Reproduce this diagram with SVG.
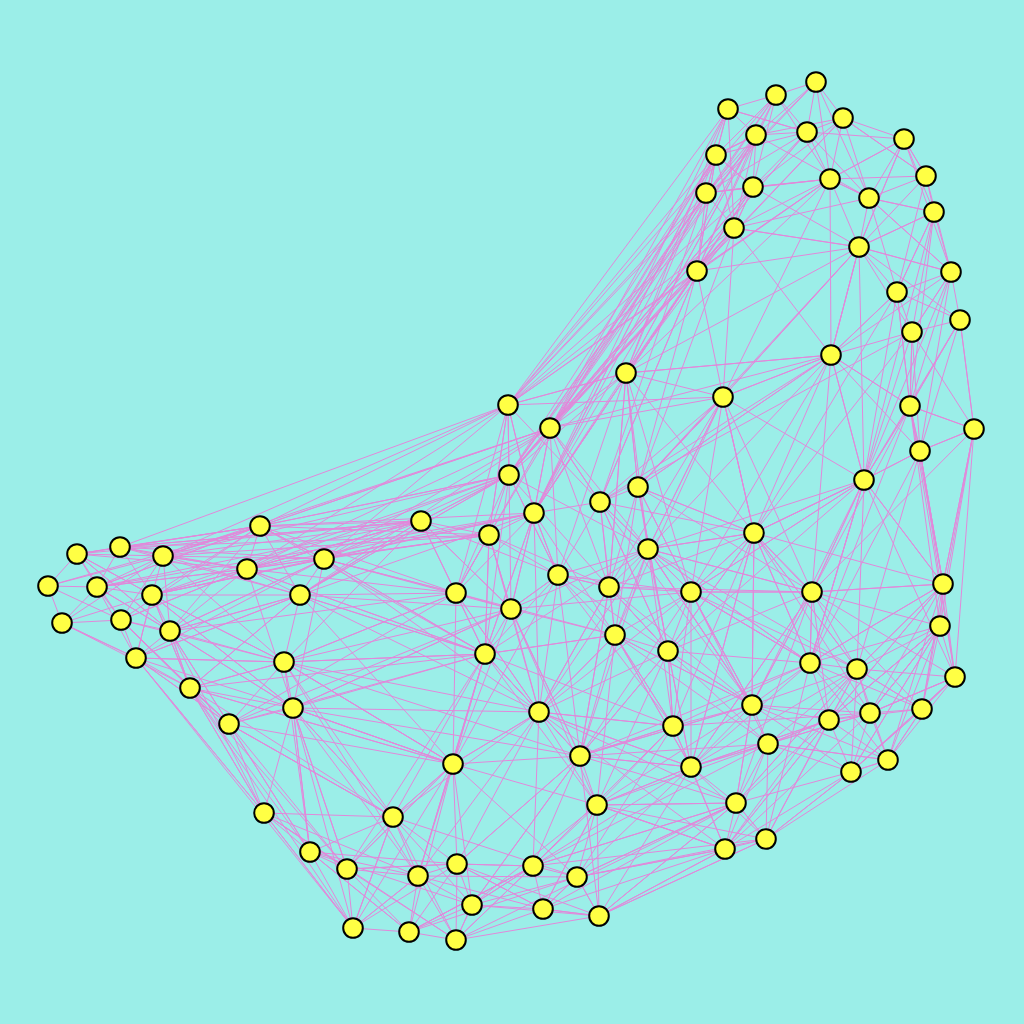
<svg xmlns="http://www.w3.org/2000/svg" width="1024" height="1024" viewBox="0 0 1024 1024">
<style>
.e path{fill:none;stroke:#e288da;stroke-width:1;stroke-linejoin:round}
.n circle{fill:#ffff44;stroke:#000;stroke-width:2}
</style>
<rect width="1024" height="1024" fill="#9beee8"/>
<g id="edges" class="e">
<path d="M728,109 L776,95 L816,82 L843,118 L904,139 L926,176 L934,212 L951,272 L960,320 L912,332 L897,292 L859,247 L869,198 L830,179 L807,132 L756,135 L716,155 L706,193 L734,228 L697,271"/>
<path d="M816,82 L807,132 L753,187 L706,193 L728,109 L756,135 L776,95 L830,179 L859,247 L831,355 L897,292 L934,212 L869,198 L904,139 L830,179 L753,187 L734,228 L859,247 L912,332 L910,406"/>
<path d="M816,82 L756,135 L753,187 L716,155 L728,109 L807,132 L843,118 L869,198 L926,176 L897,292 L960,320 L974,429 L910,406 L831,355 L723,397 L697,271 L753,187 L859,247 L951,272 L912,332 L831,355"/>
<path d="M816,82 L830,179 L869,198 L934,212 L859,247 L960,320 L910,406 L920,451 L974,429 L912,332 L920,451 L864,480 L831,355 L859,247 L723,397 L626,373 L697,271 L716,155 L776,95 L807,132 L904,139"/>
<path d="M816,82 L706,193 L753,187 L843,118 L830,179 L706,193 L697,271 L734,228 L831,355 L951,272 L926,176 L904,139 L934,212 L897,292 L910,406 L864,480"/>
<path d="M816,82 L869,198 L951,272 L904,139 L859,247 L734,228 L716,155 L756,135 L706,193 L807,132 L728,109 L734,228 L723,397"/>
<path d="M508,405 L728,109 L550,428 L716,155 L508,405 L706,193 L550,428 L776,95 L509,475 L753,187 L534,513 L756,135 L550,428 L734,228 L508,405 L697,271 L550,428 L753,187 L626,373 L716,155 L509,475 L706,193 L534,513 L697,271 L509,475"/>
<path d="M734,228 L626,373 L831,355 L723,397 L648,549 L626,373 L509,475 L508,405 L626,373 L754,533 L864,480"/>
<path d="M912,332 L910,406 L864,480 L754,533 L812,592 L943,584 L920,451 L910,406 L974,429 L920,451 L943,584 L940,626 L955,677 L922,709 L940,626 L812,592 L864,480 L943,584 L974,429 L940,626 L888,760"/>
<path d="M960,320 L910,406 L831,355 L920,451 L864,480 L723,397 L754,533 L864,480 L810,663 L812,592 L857,669 L943,584 L870,713 L955,677 L888,760 L922,709 L851,772 L940,626 L857,669"/>
<path d="M951,272 L910,406 L897,292 L831,355 L830,179"/>
<path d="M960,320 L974,429 L955,677 L943,584 L864,480 L859,247 L831,355 L754,533 L723,397 L638,487"/>
<path d="M912,332 L864,480 L831,355 L812,592 L723,397 L691,592 L754,533 L638,487 L723,397"/>
<path d="M508,405 L509,475 L421,521 L489,535 L508,405 L534,513 L550,428 L509,475 L489,535 L534,513 L600,502 L638,487 L626,373 L550,428 L600,502 L648,549 L638,487 L723,397 L754,533 L648,549 L609,587 L558,575 L534,513 L456,593 L489,535 L511,609 L558,575 L600,502 L609,587 L691,592 L648,549 L615,635 L668,651 L691,592 L754,533"/>
<path d="M508,405 L489,535 L456,593 L421,521 L324,559 L260,526 L421,521 L509,475 L558,575 L511,609 L456,593 L485,654 L511,609 L615,635 L609,587 L668,651 L673,726 L615,635 L558,575 L648,549 L812,592 L691,592 L752,705 L668,651"/>
<path d="M550,428 L534,513 L558,575 L609,587 L638,487 L626,373 L508,405 L260,526 L550,428 L247,569 L508,405 L324,559 L550,428 L300,595 L509,475 L260,526 L489,535 L324,559 L534,513 L300,595 L421,521 L247,569"/>
<path d="M120,547 L508,405 L163,556 L550,428 L260,526 L509,475 L163,556 L421,521 L120,547 L489,535 L247,569 L509,475 L152,595 L534,513 L97,587 L421,521"/>
<path d="M48,586 L77,554 L120,547 L163,556 L152,595 L97,587 L48,586 L62,623 L121,620 L136,658 L62,623 L97,587 L77,554 L152,595 L170,631 L121,620 L97,587 L120,547 L152,595 L136,658 L190,688 L170,631 L163,556 L260,526 L247,569 L163,556 L324,559 L300,595 L247,569 L152,595 L284,662 L293,708 L229,724 L190,688 L284,662 L300,595 L260,526 L324,559"/>
<path d="M77,554 L163,556 L247,569 L120,547 L260,526 L97,587 L247,569 L121,620 L163,556 L300,595 L152,595 L324,559 L120,547 L300,595 L170,631 L284,662 L136,658 L229,724 L170,631 L293,708 L190,688 L264,813 L229,724 L393,817 L293,708 L310,852 L284,662 L453,764 L293,708 L264,813"/>
<path d="M48,586 L121,620 L77,554 L170,631 L97,587 L163,556 L62,623 L152,595 L260,526 L77,554 L247,569 L136,658 L152,595 L190,688 L121,620 L229,724 L136,658 L264,813 L190,688 L310,852 L229,724 L347,869 L293,708 L453,764"/>
<path d="M136,658 L353,928 L190,688 L347,869"/>
<path d="M247,569 L456,593 L300,595 L485,654 L324,559 L456,593 L284,662 L511,609 L293,708 L485,654 L284,662 L539,712 L293,708 L393,817 L229,724 L453,764 L190,688 L393,817"/>
<path d="M121,620 L260,526 L170,631 L324,559 L136,658 L300,595 L190,688 L284,662 L229,724"/>
<path d="M170,631 L456,593"/>
<path d="M264,813 L310,852 L347,869 L353,928 L409,932 L456,940 L472,905 L418,876 L347,869 L393,817 L453,764 L457,864 L418,876 L409,932 L472,905 L543,909 L599,916 L577,877 L533,866 L457,864 L472,905 L456,940 L543,909 L533,866 L597,805 L577,877 L599,916 L597,805 L580,756 L539,712 L453,764 L485,654 L539,712 L533,866 L580,756 L457,864"/>
<path d="M264,813 L393,817 L310,852 L418,876 L393,817 L457,864 L533,866 L472,905 L577,877 L543,909 L597,805 L725,849 L599,916 L766,839 L577,877 L736,803 L533,866 L691,767 L597,805 L673,726 L580,756 L691,767 L539,712 L673,726 L485,654 L580,756 L453,764 L347,869 L409,932 L310,852 L353,928 L418,876 L456,940 L599,916 L543,909 L457,864"/>
<path d="M393,817 L353,928 L264,813 L347,869 L457,864 L456,940 L533,866 L409,932 L577,877 L453,764 L597,805 L539,712 L393,817 L485,654 L418,876 L453,764 L472,905 L580,756 L599,916 L725,849 L543,909 L736,803 L577,877 L725,849 L597,805 L766,839 L533,866 L673,726 L577,877"/>
<path d="M812,592 L810,663 L857,669 L870,713 L829,720 L810,663 L752,705 L768,744 L829,720 L851,772 L888,760 L870,713 L922,709 L888,760 L851,772 L768,744 L736,803 L766,839 L725,849 L736,803 L691,767 L673,726 L752,705 L691,767 L768,744 L766,839 L851,772 L736,803 L752,705 L668,651 L673,726 L725,849 L691,767 L857,669 L829,720 L752,705 L691,592 L810,663 L870,713 L851,772 L922,709 L955,677 L870,713 L940,626 L829,720"/>
<path d="M754,533 L810,663 L691,592 L673,726 L615,635 L752,705 L812,592 L829,720 L768,744 L857,669 L922,709 L810,663 L691,767 L829,720 L725,849 L768,744 L888,760 L766,839 L736,803 L857,669 L851,772 L752,705 L597,805 L691,767 L766,839 L599,916 L736,803 L533,866 L768,744 L668,651 L691,767 L580,756 L736,803 L597,805 L725,849 L577,877"/>
<path d="M609,587 L668,651 L810,663 L648,549 L752,705 L754,533 L857,669 L691,592 L768,744 L615,635 L691,767 L691,592 L812,592 L864,480 L810,663 L943,584 L829,720 L940,626 L870,713 L754,533 L922,709 L943,584 L857,669 L955,677 L851,772"/>
<path d="M511,609 L539,712 L456,593 L453,764 L485,654 L597,805 L511,609 L580,756 L558,575 L485,654 L615,635 L539,712 L609,587 L580,756 L668,651 L539,712 L648,549 L511,609 L691,592 L615,635 L456,593 L539,712 L489,535 L485,654 L534,513 L511,609 L421,521 L485,654 L509,475 L456,593"/>
<path d="M638,487 L754,533 L600,502 L691,592 L638,487 L812,592 L648,549 L864,480 L691,592 L558,575 L668,651 L609,587 L752,705 L648,549 L673,726 L558,575"/>
<path d="M508,405 L723,397 L550,428 L831,355 L638,487 L723,397 L600,502"/>
<path d="M626,373 L534,513"/>
<path d="M831,355 L648,549"/>
<path d="M776,95 L753,187 L716,155 L756,135 L734,228 L753,187 L830,179 L904,139 L859,247 L934,212 L912,332 L951,272 L897,292 L869,198 L807,132 L716,155 L697,271 L830,179 L926,176 L843,118 L756,135 L869,198"/>
<path d="M843,118 L926,176 L859,247 L951,272 L869,198 L734,228 L830,179 L697,271 L859,247 L723,397 L830,179"/>
<path d="M816,82 L508,405 L776,95 L697,271 L843,118 L550,428 L807,132 L509,475 L756,135 L626,373 L728,109 L534,513 L716,155 L489,535"/>
<path d="M831,355 L626,373 L859,247 L638,487 L831,355 L600,502 L912,332 L754,533 L897,292 L864,480 L951,272 L920,451 L960,320 L864,480 L934,212 L910,406"/>
<path d="M508,405 L600,502 L550,428 L648,549 L509,475 L609,587 L489,535 L558,575 L421,521 L511,609 L534,513 L615,635 L600,502 L668,651 L638,487 L691,592 L626,373 L609,587 L550,428 L456,593 L508,405 L534,513"/>
<path d="M723,397 L648,549 L754,533 L609,587 L812,592 L668,651 L754,533 L752,705 L691,592 L810,663 L648,549 L857,669 L754,533 L943,584 L812,592 L955,677 L864,480 L810,663 L754,533 L673,726"/>
<path d="M943,584 L810,663 L940,626 L870,713 L955,677 L851,772 L940,626 L829,720 L943,584 L888,760 L857,669 L922,709 L829,720 L888,760 L768,744 L870,713 L752,705 L857,669 L736,803 L829,720 L766,839 L851,772 L725,849 L870,713"/>
<path d="M453,764 L539,712 L485,654 L580,756 L615,635 L597,805 L668,651 L580,756 L673,726 L539,712 L691,767 L615,635 L752,705 L580,756 L768,744 L597,805 L736,803 L539,712 L725,849"/>
<path d="M393,817 L453,764 L347,869 L485,654 L418,876 L539,712 L457,864 L580,756 L472,905 L597,805 L543,909 L691,767 L599,916 L736,803 L456,940 L533,866 L409,932 L453,764 L353,928 L393,817 L456,940"/>
<path d="M293,708 L453,764 L284,662 L393,817 L229,724 L310,852 L293,708 L347,869 L264,813 L353,928 L293,708 L418,876 L284,662 L485,654 L300,595 L511,609 L324,559 L485,654 L247,569 L421,521 L152,595 L324,559 L170,631 L300,595 L136,658 L284,662 L121,620 L247,569 L97,587 L260,526 L48,586 L163,556"/>
<path d="M120,547 L421,521 L77,554 L260,526 L163,556 L489,535 L247,569 L534,513 L260,526 L456,593 L324,559 L509,475 L300,595 L421,521 L284,662 L456,593 L229,724 L190,688 L300,595"/>
<path d="M163,556 L284,662 L152,595 L293,708 L170,631 L190,688 L121,620 L229,724 L170,631 L264,813 L136,658 L293,708 L152,595 L190,688 L62,623 L136,658 L97,587 L170,631 L77,554 L152,595"/>
<path d="M558,575 L626,373 L609,587 L723,397 L615,635 L638,487 L668,651 L600,502 L752,705 L648,549 L691,767"/>
<path d="M831,355 L691,592 L864,480 L668,651 L754,533 L691,767 L812,592 L752,705 L864,480 L857,669 L920,451 L810,663 L910,406 L812,592 L974,429 L943,584"/>
<path d="M910,406 L943,584 L920,451 L955,677 L910,406 L940,626"/>
<path d="M974,429 L922,709"/>
<path d="M706,193 L600,502 L697,271 L638,487 L734,228 L509,475 L753,187 L508,405 L830,179 L626,373 L756,135 L697,271"/>
<path d="M716,155 L534,513 L697,271 L600,502"/>
<path d="M550,428 L558,575 L509,475 L511,609 L489,535 L485,654 L534,513 L539,712 L558,575 L453,764 L511,609 L580,756 L609,587 L539,712 L615,635 L485,654 L648,549 L580,756 L691,592 L539,712"/>
<path d="M754,533 L691,767 L812,592 L736,803 L752,705 L888,760 L810,663 L766,839 L857,669 L725,849 L829,720 L691,767 L870,713 L673,726 L810,663 L580,756 L752,705"/>
<path d="M260,526 L485,654 L247,569 L293,708 L324,559 L539,712 L300,595 L453,764 L284,662 L580,756 L293,708 L511,609 L229,724 L485,654 L190,688 L453,764"/>
<path d="M310,852 L457,864 L347,869 L456,940 L264,813 L418,876 L353,928 L457,864 L409,932 L533,866 L472,905 L599,916 L457,864 L543,909 L418,876 L577,877 L393,817 L472,905 L310,852 L409,932"/>
</g>
<g id="n1" class="n"><circle cx="816" cy="82" r="9.8"/></g>
<g id="n2" class="n"><circle cx="776" cy="95" r="9.8"/></g>
<g id="n3" class="n"><circle cx="728" cy="109" r="9.8"/></g>
<g id="n4" class="n"><circle cx="843" cy="118" r="9.8"/></g>
<g id="n5" class="n"><circle cx="807" cy="132" r="9.8"/></g>
<g id="n6" class="n"><circle cx="756" cy="135" r="9.8"/></g>
<g id="n7" class="n"><circle cx="904" cy="139" r="9.8"/></g>
<g id="n8" class="n"><circle cx="716" cy="155" r="9.8"/></g>
<g id="n9" class="n"><circle cx="926" cy="176" r="9.8"/></g>
<g id="n10" class="n"><circle cx="830" cy="179" r="9.8"/></g>
<g id="n11" class="n"><circle cx="753" cy="187" r="9.8"/></g>
<g id="n12" class="n"><circle cx="706" cy="193" r="9.8"/></g>
<g id="n13" class="n"><circle cx="869" cy="198" r="9.8"/></g>
<g id="n14" class="n"><circle cx="934" cy="212" r="9.8"/></g>
<g id="n15" class="n"><circle cx="734" cy="228" r="9.8"/></g>
<g id="n16" class="n"><circle cx="859" cy="247" r="9.8"/></g>
<g id="n17" class="n"><circle cx="697" cy="271" r="9.8"/></g>
<g id="n18" class="n"><circle cx="951" cy="272" r="9.8"/></g>
<g id="n19" class="n"><circle cx="897" cy="292" r="9.8"/></g>
<g id="n20" class="n"><circle cx="960" cy="320" r="9.8"/></g>
<g id="n21" class="n"><circle cx="912" cy="332" r="9.8"/></g>
<g id="n22" class="n"><circle cx="831" cy="355" r="9.8"/></g>
<g id="n23" class="n"><circle cx="626" cy="373" r="9.8"/></g>
<g id="n24" class="n"><circle cx="723" cy="397" r="9.8"/></g>
<g id="n25" class="n"><circle cx="910" cy="406" r="9.8"/></g>
<g id="n26" class="n"><circle cx="508" cy="405" r="9.8"/></g>
<g id="n27" class="n"><circle cx="974" cy="429" r="9.8"/></g>
<g id="n28" class="n"><circle cx="550" cy="428" r="9.8"/></g>
<g id="n29" class="n"><circle cx="920" cy="451" r="9.8"/></g>
<g id="n30" class="n"><circle cx="509" cy="475" r="9.8"/></g>
<g id="n31" class="n"><circle cx="864" cy="480" r="9.8"/></g>
<g id="n32" class="n"><circle cx="638" cy="487" r="9.8"/></g>
<g id="n33" class="n"><circle cx="600" cy="502" r="9.8"/></g>
<g id="n34" class="n"><circle cx="534" cy="513" r="9.8"/></g>
<g id="n35" class="n"><circle cx="421" cy="521" r="9.8"/></g>
<g id="n36" class="n"><circle cx="260" cy="526" r="9.8"/></g>
<g id="n37" class="n"><circle cx="489" cy="535" r="9.8"/></g>
<g id="n38" class="n"><circle cx="754" cy="533" r="9.8"/></g>
<g id="n39" class="n"><circle cx="648" cy="549" r="9.8"/></g>
<g id="n40" class="n"><circle cx="120" cy="547" r="9.8"/></g>
<g id="n41" class="n"><circle cx="77" cy="554" r="9.8"/></g>
<g id="n42" class="n"><circle cx="163" cy="556" r="9.8"/></g>
<g id="n43" class="n"><circle cx="324" cy="559" r="9.8"/></g>
<g id="n44" class="n"><circle cx="247" cy="569" r="9.8"/></g>
<g id="n45" class="n"><circle cx="558" cy="575" r="9.8"/></g>
<g id="n46" class="n"><circle cx="48" cy="586" r="9.8"/></g>
<g id="n47" class="n"><circle cx="97" cy="587" r="9.8"/></g>
<g id="n48" class="n"><circle cx="152" cy="595" r="9.8"/></g>
<g id="n49" class="n"><circle cx="300" cy="595" r="9.8"/></g>
<g id="n50" class="n"><circle cx="456" cy="593" r="9.8"/></g>
<g id="n51" class="n"><circle cx="609" cy="587" r="9.8"/></g>
<g id="n52" class="n"><circle cx="691" cy="592" r="9.8"/></g>
<g id="n53" class="n"><circle cx="812" cy="592" r="9.8"/></g>
<g id="n54" class="n"><circle cx="943" cy="584" r="9.8"/></g>
<g id="n55" class="n"><circle cx="511" cy="609" r="9.8"/></g>
<g id="n56" class="n"><circle cx="62" cy="623" r="9.8"/></g>
<g id="n57" class="n"><circle cx="121" cy="620" r="9.8"/></g>
<g id="n58" class="n"><circle cx="170" cy="631" r="9.8"/></g>
<g id="n59" class="n"><circle cx="615" cy="635" r="9.8"/></g>
<g id="n60" class="n"><circle cx="940" cy="626" r="9.8"/></g>
<g id="n61" class="n"><circle cx="668" cy="651" r="9.8"/></g>
<g id="n62" class="n"><circle cx="485" cy="654" r="9.8"/></g>
<g id="n63" class="n"><circle cx="136" cy="658" r="9.8"/></g>
<g id="n64" class="n"><circle cx="284" cy="662" r="9.8"/></g>
<g id="n65" class="n"><circle cx="810" cy="663" r="9.8"/></g>
<g id="n66" class="n"><circle cx="857" cy="669" r="9.8"/></g>
<g id="n67" class="n"><circle cx="955" cy="677" r="9.8"/></g>
<g id="n68" class="n"><circle cx="190" cy="688" r="9.8"/></g>
<g id="n69" class="n"><circle cx="293" cy="708" r="9.8"/></g>
<g id="n70" class="n"><circle cx="539" cy="712" r="9.8"/></g>
<g id="n71" class="n"><circle cx="752" cy="705" r="9.8"/></g>
<g id="n72" class="n"><circle cx="229" cy="724" r="9.8"/></g>
<g id="n73" class="n"><circle cx="829" cy="720" r="9.8"/></g>
<g id="n74" class="n"><circle cx="870" cy="713" r="9.8"/></g>
<g id="n75" class="n"><circle cx="922" cy="709" r="9.8"/></g>
<g id="n76" class="n"><circle cx="673" cy="726" r="9.8"/></g>
<g id="n77" class="n"><circle cx="768" cy="744" r="9.8"/></g>
<g id="n78" class="n"><circle cx="580" cy="756" r="9.8"/></g>
<g id="n79" class="n"><circle cx="453" cy="764" r="9.8"/></g>
<g id="n80" class="n"><circle cx="691" cy="767" r="9.8"/></g>
<g id="n81" class="n"><circle cx="851" cy="772" r="9.8"/></g>
<g id="n82" class="n"><circle cx="888" cy="760" r="9.8"/></g>
<g id="n83" class="n"><circle cx="597" cy="805" r="9.8"/></g>
<g id="n84" class="n"><circle cx="736" cy="803" r="9.8"/></g>
<g id="n85" class="n"><circle cx="264" cy="813" r="9.8"/></g>
<g id="n86" class="n"><circle cx="393" cy="817" r="9.8"/></g>
<g id="n87" class="n"><circle cx="766" cy="839" r="9.8"/></g>
<g id="n88" class="n"><circle cx="725" cy="849" r="9.8"/></g>
<g id="n89" class="n"><circle cx="310" cy="852" r="9.8"/></g>
<g id="n90" class="n"><circle cx="347" cy="869" r="9.8"/></g>
<g id="n91" class="n"><circle cx="457" cy="864" r="9.8"/></g>
<g id="n92" class="n"><circle cx="533" cy="866" r="9.8"/></g>
<g id="n93" class="n"><circle cx="418" cy="876" r="9.8"/></g>
<g id="n94" class="n"><circle cx="577" cy="877" r="9.8"/></g>
<g id="n95" class="n"><circle cx="472" cy="905" r="9.8"/></g>
<g id="n96" class="n"><circle cx="543" cy="909" r="9.8"/></g>
<g id="n97" class="n"><circle cx="599" cy="916" r="9.8"/></g>
<g id="n98" class="n"><circle cx="353" cy="928" r="9.8"/></g>
<g id="n99" class="n"><circle cx="409" cy="932" r="9.8"/></g>
<g id="n100" class="n"><circle cx="456" cy="940" r="9.8"/></g>
</svg>
